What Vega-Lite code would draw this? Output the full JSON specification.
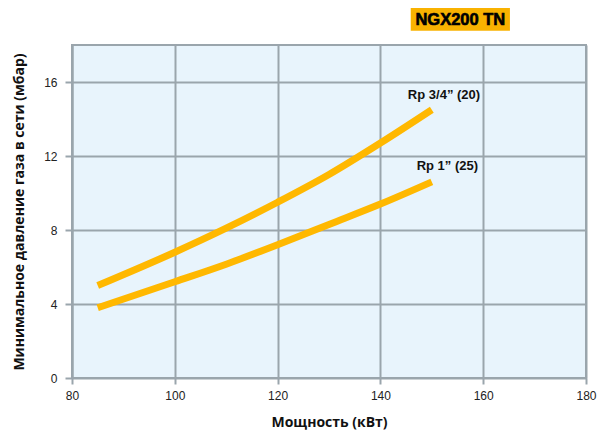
{
  "$schema": "https://vega.github.io/schema/vega-lite/v6.json",
  "width": 514,
  "height": 333,
  "autosize": {"type": "none"},
  "padding": {"left": 72, "top": 45, "right": 12, "bottom": 56},
  "background": "#ffffff",
  "config": {
    "view": {"fill": "#e8f4fc", "stroke": "#9aa5ac", "strokeWidth": 2},
    "font": "Liberation Sans"
  },
  "datasets": {
    "curves": [
      {"power": 85, "pressure": 5.0, "series": "Rp 3/4\u201d (20)"},
      {"power": 100, "pressure": 6.8, "series": "Rp 3/4\u201d (20)"},
      {"power": 110, "pressure": 8.1, "series": "Rp 3/4\u201d (20)"},
      {"power": 120, "pressure": 9.5, "series": "Rp 3/4\u201d (20)"},
      {"power": 130, "pressure": 11.0, "series": "Rp 3/4\u201d (20)"},
      {"power": 140, "pressure": 12.7, "series": "Rp 3/4\u201d (20)"},
      {"power": 150, "pressure": 14.5, "series": "Rp 3/4\u201d (20)"},
      {"power": 85, "pressure": 3.8, "series": "Rp 1\u201d (25)"},
      {"power": 100, "pressure": 5.2, "series": "Rp 1\u201d (25)"},
      {"power": 110, "pressure": 6.15, "series": "Rp 1\u201d (25)"},
      {"power": 120, "pressure": 7.2, "series": "Rp 1\u201d (25)"},
      {"power": 130, "pressure": 8.3, "series": "Rp 1\u201d (25)"},
      {"power": 140, "pressure": 9.4, "series": "Rp 1\u201d (25)"},
      {"power": 150, "pressure": 10.6, "series": "Rp 1\u201d (25)"}
    ],
    "labels": [
      {"power": 159.4, "pressure": 15.3, "label": "Rp 3/4\u201d (20)"},
      {"power": 159.0, "pressure": 11.45, "label": "Rp 1\u201d (25)"}
    ],
    "badge": [
      {"x1": 145.9, "x2": 165.2, "y1": 18.77, "y2": 20.0, "xc": 155.55, "yc": 19.37, "label": "NGX200 TN"}
    ]
  },
  "layer": [
    {
      "data": {"name": "curves"},
      "mark": {"type": "line", "color": "#ffb800", "strokeWidth": 7, "interpolate": "monotone", "strokeCap": "butt"},
      "encoding": {
        "x": {
          "field": "power", "type": "quantitative",
          "scale": {"domain": [80, 180], "nice": false},
          "axis": {
            "title": "Мощность (кВт)",
            "values": [80, 100, 120, 140, 160, 180],
            "grid": true, "gridColor": "#9aa5ac", "gridWidth": 2,
            "domain": false,
            "ticks": true, "tickColor": "#9aa5ac", "tickSize": 6, "tickWidth": 2,
            "labelFont": "Liberation Sans", "labelFontSize": 12, "labelColor": "#222222", "labelPadding": 6,
            "labelFlush": false,
            "titleFont": "Open Sans", "titleFontSize": 14, "titleFontWeight": "bold", "titleColor": "#111111",
            "titlePadding": 14
          }
        },
        "y": {
          "field": "pressure", "type": "quantitative",
          "scale": {"domain": [0, 18], "nice": false},
          "axis": {
            "title": "Минимальное давление газа в сети (мбар)",
            "values": [0, 2, 4, 6, 8, 10, 12, 14, 16, 18],
            "labelExpr": "datum.value % 4 === 0 ? datum.label : ''",
            "grid": true, "gridColor": "#9aa5ac", "gridWidth": 2,
            "domain": true, "domainColor": "#9aa5ac", "domainWidth": 2,
            "ticks": true, "tickColor": "#9aa5ac", "tickSize": 7, "tickWidth": 2,
            "tickOpacity": {"condition": {"test": "datum.value % 4 === 0 && datum.value < 18", "value": 1}, "value": 0},
            "labelFont": "Liberation Sans", "labelFontSize": 12, "labelColor": "#222222", "labelPadding": 8,
            "titleFont": "Open Sans", "titleFontSize": 14, "titleFontWeight": "bold", "titleColor": "#111111",
            "titlePadding": 17
          }
        },
        "detail": {"field": "series", "type": "nominal"}
      }
    },
    {
      "data": {"name": "labels"},
      "mark": {"type": "text", "align": "right", "baseline": "middle", "font": "Liberation Sans", "fontWeight": "bold", "fontSize": 13, "color": "#111111"},
      "encoding": {
        "x": {"field": "power", "type": "quantitative"},
        "y": {"field": "pressure", "type": "quantitative"},
        "text": {"field": "label"}
      }
    },
    {
      "data": {"name": "badge"},
      "mark": {"type": "rect", "color": "#f9b200"},
      "encoding": {
        "x": {"field": "x1", "type": "quantitative"},
        "x2": {"field": "x2"},
        "y": {"field": "y1", "type": "quantitative"},
        "y2": {"field": "y2"}
      }
    },
    {
      "data": {"name": "badge"},
      "mark": {"type": "text", "align": "center", "baseline": "middle", "font": "Liberation Sans", "fontWeight": "bold", "fontSize": 16.5, "color": "#000000", "stroke": "#000000", "strokeWidth": 0.6},
      "encoding": {
        "x": {"field": "xc", "type": "quantitative"},
        "y": {"field": "yc", "type": "quantitative"},
        "text": {"field": "label"}
      }
    }
  ]
}
